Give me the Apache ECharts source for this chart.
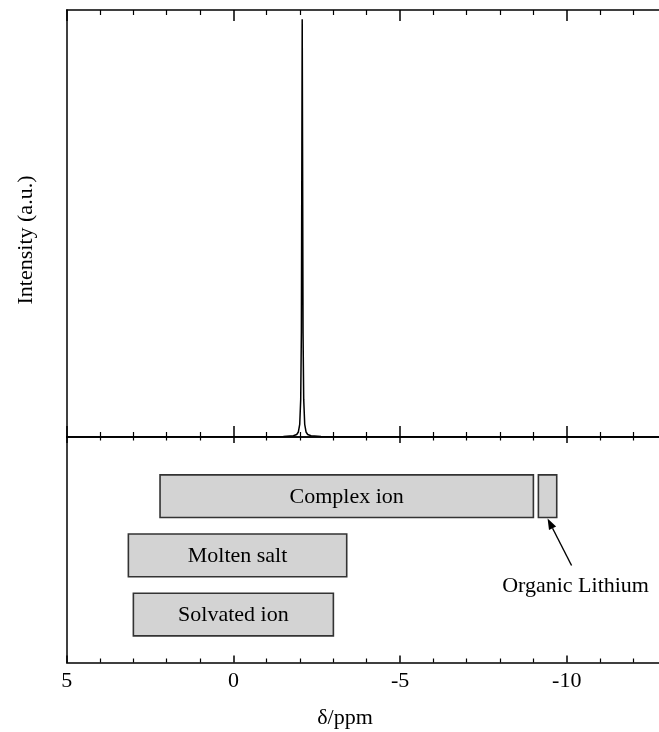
<!DOCTYPE html>
<html>
<head>
<meta charset="utf-8">
<script src="https://cdn.jsdelivr.net/npm/echarts@6/dist/echarts.min.js"></script>
<style>html,body{margin:0;padding:0;background:#fff}#c{width:659px;height:732px}</style>
</head>
<body>
<div id="c"></div>
<script>
// Spectrum (delta ppm, intensity a.u.)
const specShift = [5, -1.5, -1.8, -1.9, -1.95, -1.99, -2.02, -2.04, -2.055, -2.065, -2.075, -2.09, -2.11, -2.14, -2.18, -2.23, -2.33, -2.63, -13];
const specIntensity = [0, 0.001, 0.003, 0.006, 0.012, 0.03, 0.09, 0.25, 0.7, 1.0, 0.7, 0.25, 0.09, 0.03, 0.012, 0.006, 0.003, 0.001, 0];

// Chemical shift ranges
const boxNames = ['Complex ion', 'Organic Lithium', 'Molten salt', 'Solvated ion'];
const boxStart = [2.2, -9.15, 3.15, 3.0];
const boxEnd = [-9.0, -9.7, -3.4, -3.0];
const boxRow = [1, 1, 2, 3];

const xTickLabels = ['5', '0', '-5', '-10', '-15'];

const FONT = '"Liberation Serif", "Times New Roman", serif';
const chart = echarts.init(document.getElementById('c'));

function xAxisDef(gridIndex, position, tickLen, minorLen, showLabel) {
  return {
    type: 'value', gridIndex, position, min: -15, max: 5, inverse: true, interval: 5,
    axisLine: { show: true, onZero: false, lineStyle: { color: '#000', width: 1.5 } },
    axisTick: { show: true, inside: true, length: tickLen, lineStyle: { color: '#000', width: 1.5 } },
    minorTick: { show: true, splitNumber: 5, length: minorLen, lineStyle: { color: '#000', width: 1.2 } },
    splitLine: { show: false }, minorSplitLine: { show: false },
    axisLabel: {
      show: showLabel, margin: 8, color: '#000', fontSize: 22, fontFamily: FONT,
      formatter: v => xTickLabels.find(t => Number(t) === v) || String(v)
    }
  };
}

const specData = specShift.map((x, i) => [x, specIntensity[i]]);
const boxData = boxNames.map((n, i) => [boxStart[i], boxEnd[i], boxRow[i]]);

chart.setOption({
  animation: false,
  backgroundColor: '#fff',
  grid: [
    { left: 66.7, top: 10, width: 666.7, height: 427, outerBoundsMode: 'none', containLabel: false },
    { left: 66.7, top: 437, width: 666.7, height: 225.5, outerBoundsMode: 'none', containLabel: false }
  ],
  xAxis: [
    xAxisDef(0, 'bottom', 11, 5, false),
    xAxisDef(0, 'top', 11, 5, false),
    xAxisDef(1, 'top', 6, 3.5, false),
    xAxisDef(1, 'bottom', 7, 4, true)
  ],
  yAxis: [
    { type: 'value', gridIndex: 0, min: 0, max: 1.022,
      axisLine: { show: true, onZero: false, lineStyle: { color: '#000', width: 1.5 } },
      axisTick: { show: false }, axisLabel: { show: false }, splitLine: { show: false } },
    { type: 'value', gridIndex: 1, min: 0, max: 3.81, inverse: true,
      axisLine: { show: true, onZero: false, lineStyle: { color: '#000', width: 1.5 } },
      axisTick: { show: false }, axisLabel: { show: false }, splitLine: { show: false } }
  ],
  series: [
    { type: 'line', xAxisIndex: 0, yAxisIndex: 0, data: specData, showSymbol: false,
      lineStyle: { color: '#000', width: 1.5 }, z: 5 },
    { type: 'custom', xAxisIndex: 3, yAxisIndex: 1, data: boxData, clip: false,
      renderItem: function (params, api) {
        const name = boxNames[params.dataIndex];
        const p1 = api.coord([api.value(0), api.value(2)]);
        const p2 = api.coord([api.value(1), api.value(2)]);
        const h = api.size([0, 0.72])[1];
        const x = Math.min(p1[0], p2[0]);
        const w = Math.abs(p2[0] - p1[0]);
        const y = p1[1] - h / 2;
        const children = [{
          type: 'rect', shape: { x, y, width: w, height: h },
          style: { fill: '#d3d3d3', stroke: '#333', lineWidth: 1.6 }
        }];
        if (name === 'Organic Lithium') {
          const tip = [x + w / 2, y + h + 1];
          const tail = [tip[0] + 24, tip[1] + 47];
          const dx = tip[0] - tail[0], dy = tip[1] - tail[1];
          const L = Math.sqrt(dx * dx + dy * dy);
          const ux = dx / L, uy = dy / L;
          const bx = tip[0] - ux * 11, by = tip[1] - uy * 11;
          const px = -uy * 4, py = ux * 4;
          children.push({ type: 'line', shape: { x1: tail[0], y1: tail[1], x2: bx, y2: by },
            style: { stroke: '#000', lineWidth: 1.4 } });
          children.push({ type: 'polygon', shape: { points: [tip, [bx + px, by + py], [bx - px, by - py]] },
            style: { fill: '#000' } });
          children.push({ type: 'text', style: { text: name, x: tip[0] + 28, y: tip[1] + 68,
            align: 'center', verticalAlign: 'middle', font: '22px ' + FONT, fill: '#000' } });
        } else {
          children.push({ type: 'text', style: { text: name, x: x + w / 2, y: p1[1] + 1,
            align: 'center', verticalAlign: 'middle', font: '22px ' + FONT, fill: '#000' } });
        }
        return { type: 'group', children };
      }
    }
  ],
  graphic: [
    { type: 'text', x: 26, y: 240, rotation: Math.PI / 2,
      style: { text: 'Intensity (a.u.)', align: 'center', verticalAlign: 'middle', font: '22px ' + FONT, fill: '#000' } },
    { type: 'text', x: 345, y: 718,
      style: { text: 'δ/ppm', align: 'center', verticalAlign: 'middle', font: '22px ' + FONT, fill: '#000' } }
  ]
});
</script>
</body>
</html>
